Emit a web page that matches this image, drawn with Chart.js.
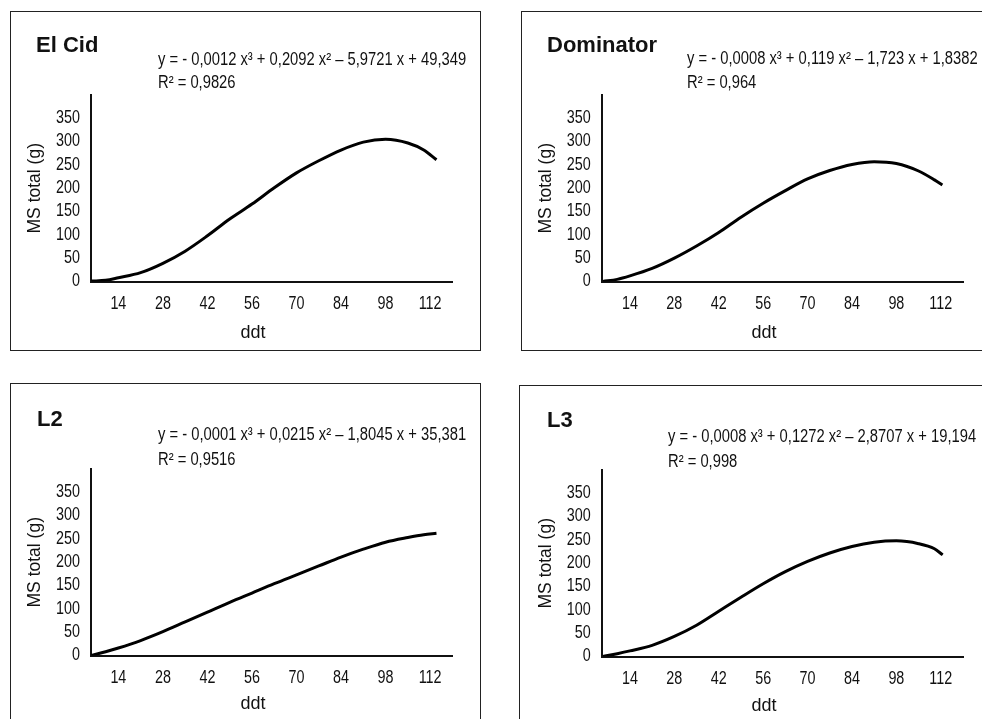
<!DOCTYPE html>
<html><head><meta charset="utf-8">
<script src="https://cdn.jsdelivr.net/npm/chart.js@4.4.0/dist/chart.umd.min.js"></script>
<style>
html,body{margin:0;padding:0;width:982px;height:719px;overflow:hidden;background:#fff;}
.panel{position:absolute;border:1.5px solid #222;box-sizing:border-box;}
.cv{position:absolute;}
.t{position:absolute;white-space:nowrap;color:#111;line-height:1;transform:translateY(-50%);}
.title{font:bold 22px "Liberation Sans",Arial,sans-serif;}
.eq{font:18px "Liberation Sans",Arial,sans-serif;transform-origin:0 50%;transform:translateY(-50%) scaleX(0.82);}
.ax{font:18px "Liberation Sans",Arial,sans-serif;transform:translate(-50%,-50%);}
</style></head><body>
<div class="panel" style="left:10px;top:11px;width:471px;height:340px"></div>
<div class="panel" style="left:521px;top:11px;width:500px;height:340px"></div>
<div class="panel" style="left:10px;top:383px;width:471px;height:400px"></div>
<div class="panel" style="left:519px;top:385px;width:500px;height:400px"></div>

<canvas id="c1" class="cv" width="471" height="340" style="left:10px;top:11px"></canvas>
<canvas id="c2" class="cv" width="461" height="340" style="left:521px;top:11px"></canvas>
<canvas id="c3" class="cv" width="471" height="340" style="left:10px;top:385px"></canvas>
<canvas id="c4" class="cv" width="461" height="340" style="left:521px;top:386px"></canvas>

<div class="t title" style="left:36px;top:45px">El Cid</div>
<div class="t eq" style="left:158px;top:59px">y = - 0,0012 x³ + 0,2092 x² – 5,9721 x + 49,349</div>
<div class="t eq" style="left:158px;top:82px">R² = 0,9826</div>
<div class="t ax" style="left:253px;top:332px">ddt</div>

<div class="t title" style="left:547px;top:45px">Dominator</div>
<div class="t eq" style="left:687px;top:58px">y = - 0,0008 x³ + 0,119 x² – 1,723 x + 1,8382</div>
<div class="t eq" style="left:687px;top:82px">R² = 0,964</div>
<div class="t ax" style="left:764px;top:332px">ddt</div>

<div class="t title" style="left:37px;top:419px">L2</div>
<div class="t eq" style="left:158px;top:434px">y = - 0,0001 x³ + 0,0215 x² – 1,8045 x + 35,381</div>
<div class="t eq" style="left:158px;top:459px">R² = 0,9516</div>
<div class="t ax" style="left:253px;top:703px">ddt</div>

<div class="t title" style="left:547px;top:420px">L3</div>
<div class="t eq" style="left:668px;top:436px">y = - 0,0008 x³ + 0,1272 x² – 2,8707 x + 19,194</div>
<div class="t eq" style="left:668px;top:461px">R² = 0,998</div>
<div class="t ax" style="left:764px;top:705px">ddt</div>

<script>
const xTickLabels = [14, 28, 42, 56, 70, 84, 98, 112];
const yTickLabels = [0, 50, 100, 150, 200, 250, 300, 350];

const elCidDdt = [5.5, 10, 14, 21, 28, 35, 42, 49, 56, 63, 70, 77, 84, 91, 98, 105, 110, 114];
const elCidMs  = [1, 2.5, 8, 19, 39, 65, 98, 134, 166, 201, 233, 259, 282, 299, 305, 297, 282, 261];

const dominatorDdt = [5.5, 10, 14, 21, 28, 35, 42, 49, 56, 63, 70, 77, 84, 91, 98, 105, 110, 112.5];
const dominatorMs  = [0, 4.6, 12, 28, 50, 76, 105, 138, 168, 195, 220, 238, 251, 257, 253, 237, 218, 207];

const l2Ddt = [5.5, 10, 14, 21, 28, 35, 42, 49, 56, 63, 70, 77, 84, 91, 98, 105, 110, 114];
const l2Ms  = [0, 8, 16, 32, 51, 72, 93, 114, 134, 154, 173, 192, 211, 228, 243, 253, 259, 262];

const l3Ddt = [5.5, 10, 14, 21, 28, 35, 42, 49, 56, 63, 70, 77, 84, 91, 98, 105, 110, 112.6];
const l3Ms  = [0, 6, 12, 24, 43, 67, 97, 127, 156, 182, 204, 222, 236, 245, 248, 242, 231, 218];

const REG = '"Liberation Sans", Arial, sans-serif';
const SQUEEZE = 0.82;

// draws the tick labels in a condensed form (like Arial Narrow)
const narrowTicks = {
  id: 'narrowTicks',
  afterUpdate(chart) {
    Object.values(chart.scales).forEach(s => {
      if (s._narrow) return;
      s._narrow = true;
      const orig = s.drawLabels;
      s.drawLabels = function (area) {
        const ctx = this.ctx;
        const ft = CanvasRenderingContext2D.prototype.fillText;
        ctx.fillText = function (t, x, y) {
          this.save(); this.translate(x, y); this.scale(SQUEEZE, 1);
          ft.call(this, t, 0, 0); this.restore();
        };
        try { orig.call(this, area); } finally { delete ctx.fillText; }
      };
    });
  }
};

function makeChart(id, xs, ys, xMin, xMax, yAxisW, padRight) {
  new Chart(document.getElementById(id), {
    type: 'line',
    data: {
      datasets: [{
        data: xs.map((x, i) => ({x: x, y: ys[i]})),
        borderColor: '#000',
        borderWidth: 3,
        pointRadius: 0,
        fill: false,
        cubicInterpolationMode: 'monotone'
      }]
    },
    plugins: [narrowTicks],
    options: {
      responsive: false,
      animation: false,
      devicePixelRatio: 1,
      layout: {padding: {top: 84, right: padRight, left: 0, bottom: 0}},
      plugins: {legend: {display: false}, tooltip: {enabled: false}},
      scales: {
        x: {
          type: 'linear', min: xMin, max: xMax,
          afterBuildTicks: s => { s.ticks = xTickLabels.map(v => ({value: v})); },
          afterFit: s => { s.height = 69.5; },
          grid: {display: false, drawTicks: false},
          border: {display: true, color: '#111', width: 2},
          ticks: {font: {family: REG, size: 17.5}, color: '#111', padding: 12, maxRotation: 0}
        },
        y: {
          type: 'linear', min: 0, max: 400,
          afterBuildTicks: s => { s.ticks = yTickLabels.map(v => ({value: v})); },
          afterFit: s => { s.width = yAxisW; },
          grid: {display: false, drawTicks: false},
          border: {display: true, color: '#111', width: 2},
          ticks: {font: {family: REG, size: 17.5}, color: '#111', padding: 11},
          title: {display: true, text: 'MS total (g)', color: '#111',
                  font: {family: REG, size: 17.5}, padding: {top: 14.5, bottom: 0}}
        }
      }
    }
  });
}

makeChart('c1', elCidDdt, elCidMs, 5.4, 119.1, 81, 28.3);
makeChart('c2', dominatorDdt, dominatorMs, 5.1, 119.1, 80.7, 18.7);
makeChart('c3', l2Ddt, l2Ms, 5.4, 119.1, 81, 28.3);
makeChart('c4', l3Ddt, l3Ms, 5.1, 119.1, 80.7, 18.7);
</script>
</body></html>
